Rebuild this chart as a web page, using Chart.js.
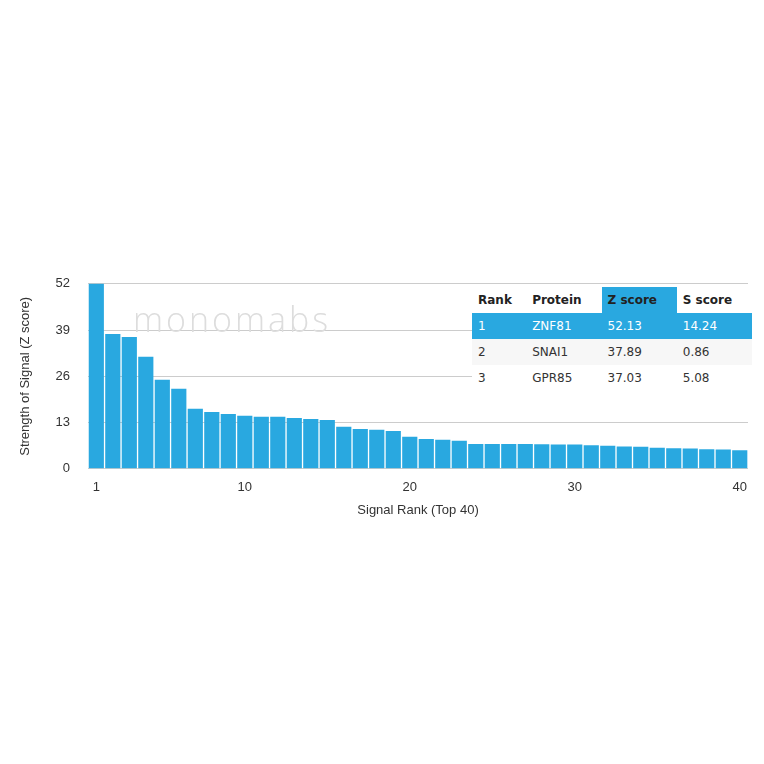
<!DOCTYPE html>
<html><head><meta charset="utf-8">
<script src="https://cdn.jsdelivr.net/npm/chart.js@4"></script>
<style>
body{margin:0;background:#fff;width:764px;height:764px;position:relative;font-family:"DejaVu Sans",sans-serif;}
#wrap{position:absolute;left:14px;top:258px;width:736px;height:264px;}
#tbl{position:absolute;left:472px;top:287px;width:280px;border-collapse:collapse;font-size:12px;background:#fff;}
#tbl td{height:26px;padding:0 0 0 6px;}
#tbl tr.h td{font-weight:bold;color:#222;}
#tbl td.zh{background:#29a8e0;color:#fff;}
#tbl tr.s td{background:#29a8e0;color:#fff;}
#tbl tr.g td{background:#f7f7f7;color:#333;}
#tbl tr.w td{color:#333;}
#wm{position:absolute;left:133px;top:296px;font-size:34px;color:#ddd;letter-spacing:3px;font-family:"Open Sans",sans-serif;font-weight:300;}
</style></head><body>
<div id="wrap"><canvas id="c"></canvas></div>
<div id="wm">monomabs</div>
<table id="tbl">
<tr class="h"><td>Rank</td><td>Protein</td><td class="zh">Z score</td><td>S score</td></tr>
<tr class="s"><td>1</td><td>ZNF81</td><td>52.13</td><td>14.24</td></tr>
<tr class="g"><td>2</td><td>SNAI1</td><td>37.89</td><td>0.86</td></tr>
<tr class="w"><td>3</td><td>GPR85</td><td>37.03</td><td>5.08</td></tr>
</table>
<script>
const ranks = Array.from({length:40},(_,i)=>String(i+1));
const zScores = [52.13,37.89,37.03,31.5,25.0,22.5,16.9,16.0,15.4,14.9,14.6,14.6,14.3,14.0,13.7,11.8,11.2,11.0,10.6,9.0,8.4,8.2,7.9,7.0,7.0,7.0,7.0,6.9,6.8,6.8,6.6,6.5,6.3,6.2,5.9,5.8,5.7,5.5,5.4,5.2];
const shownTicks = ['1','10','20','30','40'];
const yTicks = [0,13,26,39,52];
new Chart(document.getElementById('c'),{
 type:'bar',
 data:{labels:ranks,datasets:[{data:zScores,backgroundColor:'#29a8e0',categoryPercentage:1,barPercentage:0.92}]},
 options:{responsive:true,maintainAspectRatio:false,animation:false,
  layout:{padding:{right:2}},
  plugins:{legend:{display:false},tooltip:{enabled:false}},
  scales:{
   x:{grid:{display:false},border:{display:false},
     ticks:{autoSkip:false,maxRotation:0,color:'#333',font:{size:13},callback:function(v){const l=this.getLabelForValue(v);return shownTicks.includes(l)?l:'';}},
     title:{display:true,text:'Signal Rank (Top 40)',color:'#333',font:{size:13}}},
   y:{min:0,max:52,afterBuildTicks:a=>{a.ticks=yTicks.map(v=>({value:v}));},
     grid:{color:'#ccc',drawTicks:false},border:{display:false},
     ticks:{color:'#333',font:{size:13},padding:18},
     title:{display:true,text:'Strength of Signal (Z score)',color:'#333',font:{size:13}}}
  }}
});
</script></body></html>
